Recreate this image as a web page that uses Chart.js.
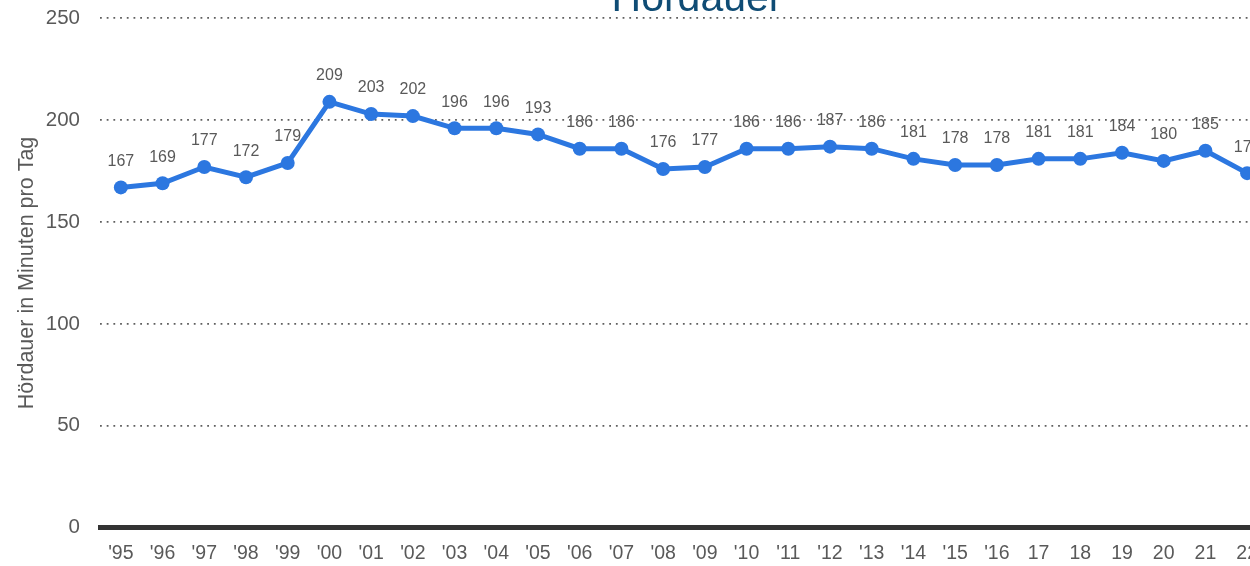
<!DOCTYPE html>
<html>
<head>
<meta charset="utf-8">
<script src="https://cdn.jsdelivr.net/npm/chart.js@4"></script>
<style>
  html, body { margin: 0; padding: 0; background: #fff; overflow: hidden; }
  body { width: 1250px; height: 566px; position: relative; }
  #wrap { position: absolute; left: 0; top: -14px; width: 1400px; height: 595px; }
  #title {
    position: absolute; left: 697px; top: -23px; transform: translateX(-50%);
    font: 41px "Liberation Sans", Arial, sans-serif; line-height: 41px;
    color: #0F4C75; white-space: nowrap;
  }
</style>
</head>
<body>
<div id="wrap"><canvas id="chart"></canvas></div>
<div id="title">Hördauer</div>
<script>
// Daten
const jahre = ["'95", "'96", "'97", "'98", "'99", "'00", "'01", "'02", "'03", "'04",
  "'05", "'06", "'07", "'08", "'09", "'10", "'11", "'12", "'13", "'14", "'15", "'16",
  "17", "18", "19", "20", "21", "22"];
const hoerdauer = [167, 169, 177, 172, 179, 209, 203, 202, 196, 196, 193, 186, 186,
  176, 177, 186, 186, 187, 186, 181, 178, 178, 181, 181, 184, 180, 185, 174];
const yTicks = [0, 50, 100, 150, 200, 250];

const grau = '#595959';
const blau = '#2C77E0';
const schrift = '"Liberation Sans", Arial, sans-serif';

// Wertebeschriftung über den Punkten
const wertLabels = {
  id: 'wertLabels',
  afterDatasetsDraw(chart) {
    const ctx = chart.ctx;
    const meta = chart.getDatasetMeta(0);
    ctx.save();
    ctx.font = '16px ' + schrift;
    ctx.fillStyle = grau;
    ctx.textAlign = 'center';
    ctx.textBaseline = 'middle';
    meta.data.forEach((pt, i) => {
      ctx.fillText(String(hoerdauer[i]), pt.x, pt.y - 26);
    });
    ctx.restore();
  }
};

new Chart(document.getElementById('chart'), {
  type: 'line',
  data: {
    labels: jahre,
    datasets: [{
      label: 'Hördauer',
      data: hoerdauer,
      borderColor: blau,
      backgroundColor: blau,
      borderWidth: 5,
      pointRadius: 7,
      pointBorderWidth: 0,
      pointBackgroundColor: blau,
      tension: 0,
      fill: false
    }]
  },
  options: {
    responsive: true,
    maintainAspectRatio: false,
    animation: false,
    layout: { padding: { top: 3, right: 132, bottom: 2, left: 0 } },
    plugins: {
      legend: { display: false },
      tooltip: { enabled: false }
    },
    scales: {
      x: {
        offset: true,
        grid: { display: false, drawTicks: false },
        border: { display: true, color: '#333333', width: 5 },
        ticks: {
          color: grau,
          padding: 14,
          maxRotation: 0,
          autoSkip: false,
          font: { family: schrift, size: 19.5 }
        }
      },
      y: {
        min: 0,
        max: 250,
        afterBuildTicks: (scale) => { scale.ticks = yTicks.map(v => ({ value: v })); },
        afterFit: (scale) => { scale.width = 100; },
        grid: {
          drawTicks: false,
          color: (c) => c.tick && c.tick.value === 0 ? 'rgba(0,0,0,0)' : '#5f5f5f',
          lineWidth: 1.8
        },
        border: { display: false, dash: [1.8, 4.9] },
        ticks: {
          color: grau,
          padding: 20,
          font: { family: schrift, size: 20.5 }
        },
        title: {
          display: true,
          text: 'Hördauer in Minuten pro Tag',
          color: grau,
          padding: { top: 14, bottom: 0 },
          font: { family: schrift, size: 21.5 }
        }
      }
    }
  },
  plugins: [wertLabels]
});
</script>
</body>
</html>
